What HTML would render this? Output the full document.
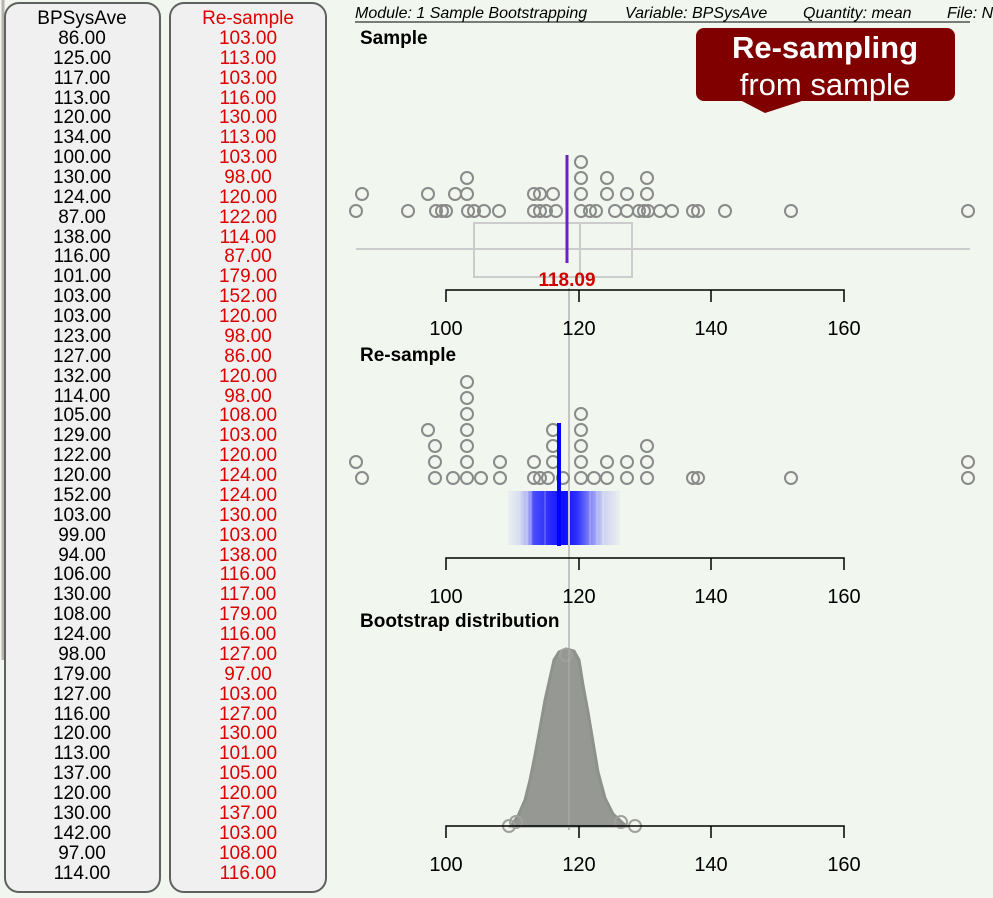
<!DOCTYPE html>
<html><head><meta charset="utf-8"><style>
html,body{margin:0;padding:0;background:#f1f7ef;}
svg{display:block;font-family:"Liberation Sans",Arial,sans-serif;}
</style></head><body>
<svg width="993" height="898" viewBox="0 0 993 898" xmlns="http://www.w3.org/2000/svg">
<defs>
<linearGradient id="bg" x1="508" x2="620" y1="0" y2="0" gradientUnits="userSpaceOnUse">
<stop offset="0" stop-color="#0000ff" stop-opacity="0.03"/>
<stop offset="0.1" stop-color="#0000ff" stop-opacity="0.1"/>
<stop offset="0.18" stop-color="#0000ff" stop-opacity="0.3"/>
<stop offset="0.23" stop-color="#0000ff" stop-opacity="0.7"/>
<stop offset="0.35" stop-color="#0000ff" stop-opacity="0.8"/>
<stop offset="0.5" stop-color="#0000ff" stop-opacity="0.95"/>
<stop offset="0.62" stop-color="#0000ff" stop-opacity="0.8"/>
<stop offset="0.72" stop-color="#0000ff" stop-opacity="0.5"/>
<stop offset="0.85" stop-color="#0000ff" stop-opacity="0.15"/>
<stop offset="1" stop-color="#0000ff" stop-opacity="0.03"/>
</linearGradient>
</defs>
<rect width="993" height="898" fill="#f1f7ef"/>
<line x1="3" y1="0" x2="3" y2="660" stroke="#b8b4ad" stroke-width="3"/>
<rect x="5" y="3" width="155" height="889" rx="14" fill="#f0f0f0" stroke="#606060" stroke-width="2"/>
<rect x="170" y="3" width="156" height="889" rx="14" fill="#f0f0f0" stroke="#606060" stroke-width="2"/>
<g font-size="19" text-anchor="middle" fill="#000">
<text x="82" y="24">BPSysAve</text>
<text x="82" y="44">86.00</text><text x="82" y="64">125.00</text><text x="82" y="84">117.00</text><text x="82" y="104">113.00</text><text x="82" y="123">120.00</text><text x="82" y="143">134.00</text><text x="82" y="163">100.00</text><text x="82" y="183">130.00</text><text x="82" y="203">124.00</text><text x="82" y="223">87.00</text><text x="82" y="243">138.00</text><text x="82" y="262">116.00</text><text x="82" y="282">101.00</text><text x="82" y="302">103.00</text><text x="82" y="322">103.00</text><text x="82" y="342">123.00</text><text x="82" y="362">127.00</text><text x="82" y="382">132.00</text><text x="82" y="402">114.00</text><text x="82" y="421">105.00</text><text x="82" y="441">129.00</text><text x="82" y="461">122.00</text><text x="82" y="481">120.00</text><text x="82" y="501">152.00</text><text x="82" y="521">103.00</text><text x="82" y="541">99.00</text><text x="82" y="561">94.00</text><text x="82" y="580">106.00</text><text x="82" y="600">130.00</text><text x="82" y="620">108.00</text><text x="82" y="640">124.00</text><text x="82" y="660">98.00</text><text x="82" y="680">179.00</text><text x="82" y="700">127.00</text><text x="82" y="720">116.00</text><text x="82" y="739">120.00</text><text x="82" y="759">113.00</text><text x="82" y="779">137.00</text><text x="82" y="799">120.00</text><text x="82" y="819">130.00</text><text x="82" y="839">142.00</text><text x="82" y="859">97.00</text><text x="82" y="879">114.00</text>
</g>
<g font-size="19" text-anchor="middle" fill="#dd0000">
<text x="248" y="24">Re-sample</text>
<text x="248" y="44">103.00</text><text x="248" y="64">113.00</text><text x="248" y="84">103.00</text><text x="248" y="104">116.00</text><text x="248" y="123">130.00</text><text x="248" y="143">113.00</text><text x="248" y="163">103.00</text><text x="248" y="183">98.00</text><text x="248" y="203">120.00</text><text x="248" y="223">122.00</text><text x="248" y="243">114.00</text><text x="248" y="262">87.00</text><text x="248" y="282">179.00</text><text x="248" y="302">152.00</text><text x="248" y="322">120.00</text><text x="248" y="342">98.00</text><text x="248" y="362">86.00</text><text x="248" y="382">120.00</text><text x="248" y="402">98.00</text><text x="248" y="421">108.00</text><text x="248" y="441">103.00</text><text x="248" y="461">120.00</text><text x="248" y="481">124.00</text><text x="248" y="501">124.00</text><text x="248" y="521">130.00</text><text x="248" y="541">103.00</text><text x="248" y="561">138.00</text><text x="248" y="580">116.00</text><text x="248" y="600">117.00</text><text x="248" y="620">179.00</text><text x="248" y="640">116.00</text><text x="248" y="660">127.00</text><text x="248" y="680">97.00</text><text x="248" y="700">103.00</text><text x="248" y="720">127.00</text><text x="248" y="739">130.00</text><text x="248" y="759">101.00</text><text x="248" y="779">105.00</text><text x="248" y="799">120.00</text><text x="248" y="819">137.00</text><text x="248" y="839">103.00</text><text x="248" y="859">108.00</text><text x="248" y="879">116.00</text>
</g>
<!-- header -->
<g font-size="16" font-style="italic" fill="#000">
<text x="355" y="18">Module: 1 Sample Bootstrapping</text>
<text x="625" y="18">Variable: BPSysAve</text>
<text x="803" y="18">Quantity: mean</text>
<text x="947" y="18">File: N</text>
</g>
<line x1="355" y1="22" x2="970" y2="22" stroke="#000" stroke-width="1"/>
<!-- callout -->
<rect x="696" y="28" width="259" height="73" rx="8" fill="#800000"/>
<polygon points="740,100 805,100 765,113" fill="#800000"/>
<text x="825" y="58" font-size="31" font-weight="bold" fill="#fff" text-anchor="middle">Re-sampling</text>
<text x="825" y="95" font-size="31" fill="#fff" text-anchor="middle">from sample</text>
<!-- titles -->
<g font-size="19" font-weight="bold" fill="#000">
<text x="360" y="44">Sample</text>
<text x="360" y="361">Re-sample</text>
<text x="360" y="627">Bootstrap distribution</text>
</g>
<!-- grey reference line -->
<line x1="569" y1="288" x2="569" y2="830" stroke="#c4c4c4" stroke-width="2"/>
<!-- sample box -->
<line x1="356" y1="249" x2="970" y2="249" stroke="#cccccc" stroke-width="2"/>
<rect x="474" y="223" width="158" height="54" fill="none" stroke="#cccccc" stroke-width="2"/>
<line x1="580" y1="223" x2="580" y2="277" stroke="#cccccc" stroke-width="2"/>
<g fill="none" stroke="#8a8a8a" stroke-width="2">
<circle cx="356" cy="211" r="6"/><circle cx="408" cy="211" r="6"/><circle cx="436" cy="211" r="6"/><circle cx="442" cy="211" r="6"/><circle cx="446" cy="211" r="6"/><circle cx="468" cy="211" r="6"/><circle cx="474" cy="211" r="6"/><circle cx="484" cy="211" r="6"/><circle cx="499" cy="211" r="6"/><circle cx="534" cy="211" r="6"/><circle cx="540" cy="211" r="6"/><circle cx="546" cy="211" r="6"/><circle cx="556" cy="211" r="6"/><circle cx="581" cy="211" r="6"/><circle cx="590" cy="211" r="6"/><circle cx="596" cy="211" r="6"/><circle cx="615" cy="211" r="6"/><circle cx="627" cy="211" r="6"/><circle cx="639" cy="211" r="6"/><circle cx="644" cy="211" r="6"/><circle cx="648" cy="211" r="6"/><circle cx="660" cy="211" r="6"/><circle cx="672" cy="211" r="6"/><circle cx="693" cy="211" r="6"/><circle cx="698" cy="211" r="6"/><circle cx="725" cy="211" r="6"/><circle cx="791" cy="211" r="6"/><circle cx="968" cy="211" r="6"/>
<circle cx="362" cy="194" r="6"/><circle cx="428" cy="194" r="6"/><circle cx="455" cy="194" r="6"/><circle cx="467" cy="194" r="6"/><circle cx="534" cy="194" r="6"/><circle cx="540" cy="194" r="6"/><circle cx="553" cy="194" r="6"/><circle cx="581" cy="194" r="6"/><circle cx="607" cy="194" r="6"/><circle cx="627" cy="194" r="6"/><circle cx="647" cy="194" r="6"/>
<circle cx="467" cy="178" r="6"/><circle cx="581" cy="178" r="6"/><circle cx="607" cy="178" r="6"/><circle cx="647" cy="178" r="6"/>
<circle cx="581" cy="162" r="6"/>
</g>
<line x1="567" y1="155" x2="567" y2="263" stroke="#7020c0" stroke-width="3"/>
<text x="567" y="286" font-size="19" font-weight="bold" fill="#d00000" text-anchor="middle">118.09</text>
<!-- resample -->
<g fill="none" stroke="#8a8a8a" stroke-width="2">
<circle cx="362" cy="478" r="6"/><circle cx="435" cy="478" r="6"/><circle cx="453" cy="478" r="6"/><circle cx="467" cy="478" r="6"/><circle cx="481" cy="478" r="6"/><circle cx="500" cy="478" r="6"/><circle cx="534" cy="478" r="6"/><circle cx="540" cy="478" r="6"/><circle cx="548" cy="478" r="6"/><circle cx="563" cy="478" r="6"/><circle cx="581" cy="478" r="6"/><circle cx="594" cy="478" r="6"/><circle cx="607" cy="478" r="6"/><circle cx="627" cy="478" r="6"/><circle cx="647" cy="478" r="6"/><circle cx="693" cy="478" r="6"/><circle cx="698" cy="478" r="6"/><circle cx="791" cy="478" r="6"/><circle cx="968" cy="478" r="6"/>
<circle cx="356" cy="462" r="6"/><circle cx="435" cy="462" r="6"/><circle cx="467" cy="462" r="6"/><circle cx="500" cy="462" r="6"/><circle cx="534" cy="462" r="6"/><circle cx="553" cy="462" r="6"/><circle cx="581" cy="462" r="6"/><circle cx="607" cy="462" r="6"/><circle cx="627" cy="462" r="6"/><circle cx="647" cy="462" r="6"/><circle cx="968" cy="462" r="6"/>
<circle cx="435" cy="446" r="6"/><circle cx="467" cy="446" r="6"/><circle cx="553" cy="446" r="6"/><circle cx="581" cy="446" r="6"/><circle cx="647" cy="446" r="6"/>
<circle cx="428" cy="430" r="6"/><circle cx="467" cy="430" r="6"/><circle cx="553" cy="430" r="6"/><circle cx="581" cy="430" r="6"/>
<circle cx="467" cy="414" r="6"/><circle cx="581" cy="414" r="6"/>
<circle cx="467" cy="398" r="6"/>
<circle cx="467" cy="382" r="6"/>
</g>
<rect x="508" y="491" width="112" height="54" fill="url(#bg)"/>
<g stroke="#ffffff" stroke-opacity="0.35" stroke-width="1">
<line x1="527" y1="491" x2="527" y2="545"/><line x1="531" y1="491" x2="531" y2="545"/><line x1="545" y1="491" x2="545" y2="545"/><line x1="590" y1="491" x2="590" y2="545"/><line x1="597" y1="491" x2="597" y2="545"/><line x1="603" y1="491" x2="603" y2="545"/>
</g>
<line x1="569" y1="491" x2="569" y2="545" stroke="#c4c4c4" stroke-width="2"/>
<line x1="559" y1="423" x2="559" y2="546" stroke="#0000ff" stroke-width="4"/>
<!-- bootstrap -->
<polygon points="511,826 518,816 525,800 530,780 535,755 540,728 545,700 550,678 554,660 559,652 566,649 574,651 579,660 583,685 588,712 593,742 598,772 605,798 613,814 626,826" fill="#969993" stroke="#8f928c" stroke-width="3"/>
<g fill="none" stroke="#a0a09c" stroke-width="2">
<circle cx="509" cy="826" r="6"/><circle cx="516" cy="822" r="6"/><circle cx="621" cy="822" r="6"/><circle cx="635" cy="826" r="6"/><circle cx="566" cy="655" r="6"/>
</g>
<line x1="569" y1="650" x2="569" y2="830" stroke="#b0b0b0" stroke-width="1"/>
<!-- axes -->
<g stroke="#000" stroke-width="1.5" fill="none">
<path d="M446,302 V290 H844 V302 M579,290 V302 M711,290 V302"/>
<path d="M446,570 V558 H844 V570 M579,558 V570 M711,558 V570"/>
<path d="M446,838 V826 H844 V838 M579,826 V838 M711,826 V838"/>
</g>
<g font-size="20" fill="#000" text-anchor="middle">
<text x="446" y="335">100</text><text x="579" y="335">120</text><text x="711" y="335">140</text><text x="844" y="335">160</text>
<text x="446" y="603">100</text><text x="579" y="603">120</text><text x="711" y="603">140</text><text x="844" y="603">160</text>
<text x="446" y="871">100</text><text x="579" y="871">120</text><text x="711" y="871">140</text><text x="844" y="871">160</text>
</g>
</svg>
</body></html>
